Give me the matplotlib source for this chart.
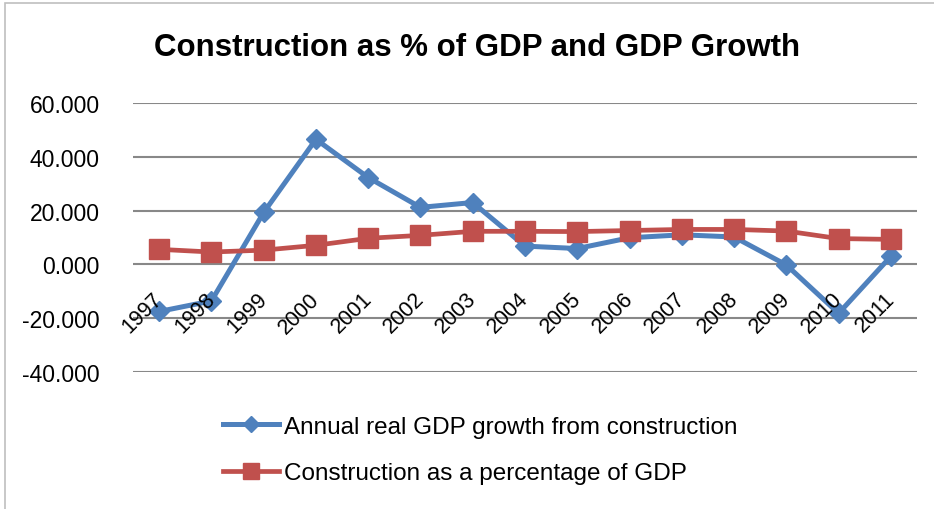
import matplotlib
matplotlib.use('Agg')
import matplotlib.pyplot as plt
from matplotlib.patches import Rectangle

years = ['1997', '1998', '1999', '2000', '2001', '2002', '2003', '2004',
         '2005', '2006', '2007', '2008', '2009', '2010', '2011']
gdp_growth = [-17.5, -13.6, 19.3, 46.5, 32.3, 21.2, 23.0, 6.8,
              5.9, 9.9, 11.0, 10.2, -0.2, -18.2, 3.0]
construction_share = [5.6, 4.6, 5.3, 7.1, 9.7, 10.8, 12.3, 12.3,
                      12.2, 12.6, 13.0, 13.0, 12.4, 9.6, 9.3]
y_ticks = [-40, -20, 0, 20, 40, 60]

BLUE = '#4F81BD'
RED = '#C0504D'
GRID = '#888888'

plt.rcParams['font.family'] = ['Liberation Sans', 'DejaVu Sans']

fig = plt.figure(figsize=(9.34, 5.10), dpi=100)
# thin frame of the chart area
fig.patches.append(Rectangle((5 / 934, -0.01), 1.0, 1 - 4 / 510 + 0.01,
                             transform=fig.transFigure, fill=False,
                             edgecolor='#BFBFBF', linewidth=1.2))

ax = fig.add_axes([133 / 934, 1 - 373 / 510, 784 / 934, 269 / 510])
x = list(range(len(years)))

ax.plot(x, gdp_growth, color=BLUE, linewidth=3.6, marker='D', markersize=10,
        label='Annual real GDP growth from construction', zorder=3)
ax.plot(x, construction_share, color=RED, linewidth=3.4, marker='s', markersize=14,
        label='Construction as a percentage of GDP', zorder=4)

ax.set_xlim(-0.5, len(years) - 0.5)
ax.set_ylim(-40, 60)
ax.set_yticks(y_ticks)
ax.set_yticklabels(['%.3f' % v for v in y_ticks], fontsize=16.5)
ax.tick_params(axis='y', length=0, pad=24)
ax.yaxis.grid(True, color=GRID, linewidth=1.5)
ax.set_axisbelow(True)
for side in ['left', 'right', 'top', 'bottom']:
    ax.spines[side].set_visible(False)

# category labels sit under the zero line, rotated like Excel does
ax.set_xticks([])
for i, year in enumerate(years):
    ax.annotate(year, xy=(i, 0), xytext=(-5, -17), textcoords='offset points',
                rotation=45, ha='right', va='top', rotation_mode='anchor',
                fontsize=15.5, zorder=5)

fig.text(477 / 934, 1 - 48 / 510, 'Construction as % of GDP and GDP Growth',
         ha='center', va='center', fontsize=22.5, fontweight='bold')

fig.legend(loc='center', bbox_to_anchor=(480 / 934, 1 - 451 / 510),
           frameon=False, fontsize=17.5, handlelength=2.3,
           labelspacing=1.0, handletextpad=0.2, markerscale=0.8)

fig.savefig('out.png', dpi=100)
